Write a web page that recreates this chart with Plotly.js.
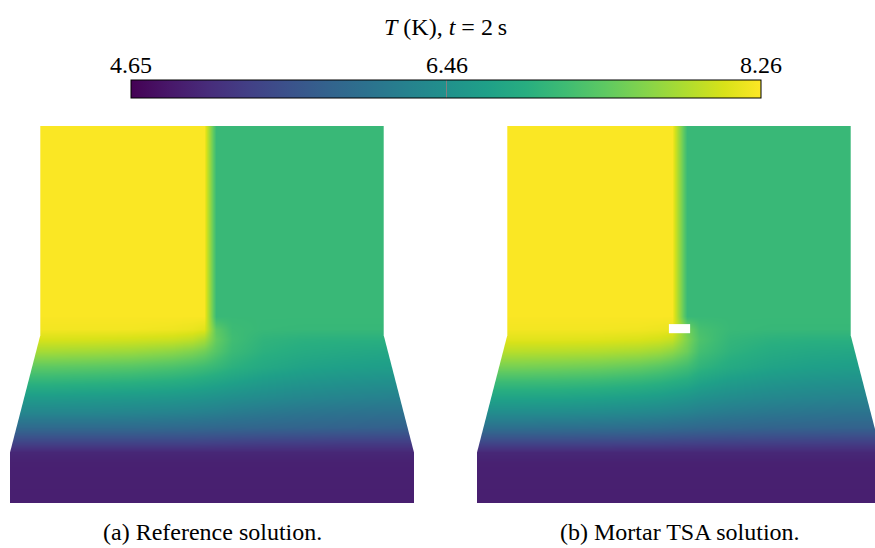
<!DOCTYPE html>
<html>
<head>
<meta charset="utf-8">
<script src="https://cdn.plot.ly/plotly-3.0.1.min.js"></script>
<style>html,body{margin:0;padding:0;background:#fff;}#chart{width:875px;height:548px;}</style>
</head>
<body>
<div id="chart"></div>
<script>
// ---- colour scale / colorbar ----
const tMin = 4.65;
const tMax = 8.26;
const tickVals = [4.65, 6.46, 8.26];
const tickText = ['4.65', '6.46', '8.26'];
const cbTitle = '<i>T</i> (K), <i>t</i> = 2\u2009s';
const captions = ['(a) Reference solution.', '(b) Mortar TSA solution.'];

// ---- sample grid (x, y in mm-like units; y measured upward) ----
const xsA = [0, 4, 8, 12, 16, 18, 19.2, 20.4, 22, 25, 29, 33, 37, 40];
const xsB = [0, 4, 8, 12, 16, 18, 19.3, 20.8, 22, 25, 29, 33, 37, 40];
const ys  = [0, 4, 5, 6, 7.5, 9, 10.5, 12, 13.5, 15, 16.2, 17.2, 18.5, 37.3];

// ---- temperature T (K), rows bottom -> top ----
const zA = [
  [4.95,4.95,4.95,4.95,4.95,4.95,4.95,4.95,4.95,4.95,4.95,4.95,4.95,4.95],
  [4.97,4.97,4.97,4.97,4.97,4.97,4.97,4.97,4.97,4.97,4.97,4.97,4.97,4.97],
  [5.04,5.04,5.04,5.04,5.04,5.04,5.04,5.04,5.04,5.04,5.04,5.04,5.04,5.04],
  [5.38,5.38,5.38,5.38,5.38,5.38,5.37,5.36,5.35,5.33,5.32,5.30,5.30,5.30],
  [5.90,5.90,5.90,5.90,5.88,5.87,5.86,5.85,5.84,5.82,5.80,5.78,5.76,5.75],
  [6.30,6.30,6.30,6.28,6.25,6.23,6.21,6.19,6.15,6.10,6.05,6.02,6.00,6.00],
  [6.62,6.62,6.60,6.58,6.55,6.52,6.50,6.47,6.43,6.37,6.30,6.26,6.23,6.22],
  [6.98,6.98,6.96,6.93,6.88,6.84,6.80,6.76,6.70,6.60,6.52,6.47,6.44,6.43],
  [7.35,7.35,7.33,7.30,7.23,7.17,7.12,7.05,6.95,6.83,6.73,6.68,6.65,6.64],
  [7.78,7.78,7.76,7.73,7.65,7.57,7.48,7.30,7.10,6.95,6.87,6.83,6.80,6.80],
  [8.05,8.05,8.04,8.02,7.98,7.92,7.80,7.40,7.15,7.00,6.95,6.94,6.94,6.94],
  [8.20,8.20,8.20,8.20,8.18,8.15,8.10,7.35,7.12,7.07,7.06,7.06,7.06,7.06],
  [8.24,8.24,8.24,8.24,8.24,8.24,8.24,7.08,7.08,7.08,7.08,7.08,7.08,7.08],
  [8.24,8.24,8.24,8.24,8.24,8.24,8.24,7.08,7.08,7.08,7.08,7.08,7.08,7.08]
];
const zB = [
  [4.95,4.95,4.95,4.95,4.95,4.95,4.95,4.95,4.95,4.95,4.95,4.95,4.95,4.95],
  [4.97,4.97,4.97,4.97,4.97,4.97,4.97,4.97,4.97,4.97,4.97,4.97,4.97,4.97],
  [5.05,5.05,5.05,5.05,5.05,5.05,5.05,5.05,5.05,5.05,5.05,5.05,5.05,5.05],
  [5.42,5.42,5.42,5.41,5.40,5.39,5.38,5.37,5.36,5.35,5.34,5.33,5.32,5.32],
  [5.98,5.98,5.97,5.96,5.94,5.92,5.90,5.88,5.86,5.83,5.80,5.79,5.78,5.78],
  [6.40,6.40,6.39,6.37,6.33,6.30,6.27,6.24,6.19,6.13,6.08,6.05,6.03,6.03],
  [6.75,6.75,6.74,6.71,6.66,6.62,6.58,6.53,6.47,6.39,6.32,6.28,6.25,6.25],
  [7.10,7.10,7.09,7.06,7.00,6.95,6.90,6.84,6.74,6.62,6.53,6.48,6.45,6.45],
  [7.50,7.50,7.48,7.45,7.38,7.31,7.24,7.14,7.00,6.85,6.74,6.68,6.65,6.65],
  [7.88,7.88,7.87,7.85,7.80,7.74,7.65,7.45,7.18,6.98,6.87,6.82,6.80,6.80],
  [8.10,8.10,8.10,8.09,8.06,8.02,7.95,7.55,7.25,7.03,6.96,6.94,6.94,6.94],
  [8.20,8.20,8.20,8.20,8.19,8.17,8.15,7.50,7.20,7.08,7.06,7.06,7.06,7.06],
  [8.24,8.24,8.24,8.24,8.24,8.24,8.24,7.08,7.08,7.08,7.08,7.08,7.08,7.08],
  [8.24,8.24,8.24,8.24,8.24,8.24,8.24,7.08,7.08,7.08,7.08,7.08,7.08,7.08]
];

const W = 875, H = 548;
const serif = 'Liberation Serif, Times New Roman, serif';
const fs = 24;

const traces = [
  {type: 'heatmap', x: xsA, y: ys, z: zA, zsmooth: 'best', coloraxis: 'coloraxis',
   xaxis: 'x', yaxis: 'y', hoverinfo: 'skip'},
  {type: 'heatmap', x: xsB, y: ys, z: zB, zsmooth: 'best', coloraxis: 'coloraxis',
   xaxis: 'x2', yaxis: 'y2', hoverinfo: 'skip'}
];

function masks(xr, yr) {
  return [
    {type: 'path', xref: xr, yref: yr, layer: 'above', fillcolor: '#ffffff', line: {width: 0},
     path: 'M -2,5 L 0,5 L 3,16.6 L 3,40 L -2,40 Z'},
    {type: 'path', xref: xr, yref: yr, layer: 'above', fillcolor: '#ffffff', line: {width: 0},
     path: 'M 42,5 L 40,5 L 37,16.6 L 37,40 L 42,40 Z'}
  ];
}
const shapes = masks('x', 'y').concat(masks('x2', 'y2'));
// small gap (white block) in the mortar solution
shapes.push({type: 'rect', xref: 'x2', yref: 'y2', x0: 19.0, x1: 21.1, y0: 16.8, y1: 17.7,
  fillcolor: '#ffffff', line: {width: 0}, layer: 'above'});

const annotations = [];
annotations.push({xref: 'paper', yref: 'paper', x: 446 / W, y: (H - 27) / H, xanchor: 'center', yanchor: 'middle',
  text: cbTitle, showarrow: false, font: {family: serif, size: fs, color: '#000'}});
const cbLeft = 131, cbRight = 761;
tickVals.forEach((v, i) => {
  const px = cbLeft + (v - tMin) / (tMax - tMin) * (cbRight - cbLeft);
  annotations.push({xref: 'paper', yref: 'paper', x: px / W, y: (H - 65) / H, xanchor: 'center', yanchor: 'middle',
    text: tickText[i], showarrow: false, font: {family: serif, size: fs, color: '#000'}});
});
annotations.push({xref: 'paper', yref: 'paper', x: 212 / W, y: (H - 532) / H, xanchor: 'center', yanchor: 'middle',
  text: captions[0], showarrow: false, font: {family: serif, size: fs, color: '#000'}});
annotations.push({xref: 'paper', yref: 'paper', x: 680 / W, y: (H - 532) / H, xanchor: 'center', yanchor: 'middle',
  text: captions[1], showarrow: false, font: {family: serif, size: fs, color: '#000'}});

const ax = {visible: false, showgrid: false, zeroline: false, fixedrange: true};
const layout = {
  width: W, height: H,
  margin: {l: 0, r: 0, t: 0, b: 0},
  paper_bgcolor: '#ffffff', plot_bgcolor: '#ffffff',
  showlegend: false,
  xaxis: Object.assign({}, ax, {domain: [10 / W, 414 / W], range: [0, 40]}),
  yaxis: Object.assign({}, ax, {domain: [(H - 503) / H, (H - 126) / H], range: [0, 37.3]}),
  xaxis2: Object.assign({}, ax, {domain: [477 / W, 1], range: [0, (W - 477) / 10.1]}),
  yaxis2: Object.assign({}, ax, {domain: [(H - 503) / H, (H - 126) / H], range: [0, 37.3]}),
  coloraxis: {
    cmin: tMin, cmax: tMax, colorscale: 'Viridis',
    colorbar: {
      orientation: 'h', x: 446 / W, xanchor: 'center', y: (H - 80) / H, yanchor: 'top',
      len: cbRight - cbLeft, lenmode: 'pixels', thickness: 18, thicknessmode: 'pixels',
      xpad: 0, ypad: 0, outlinewidth: 1, outlinecolor: '#000000',
      tickvals: tickVals, ticks: 'inside', ticklen: 18, tickwidth: 1, tickcolor: '#808080',
      showticklabels: false
    }
  },
  shapes: shapes,
  annotations: annotations
};

Plotly.newPlot('chart', traces, layout, {staticPlot: true, displayModeBar: false});
</script>
</body>
</html>
